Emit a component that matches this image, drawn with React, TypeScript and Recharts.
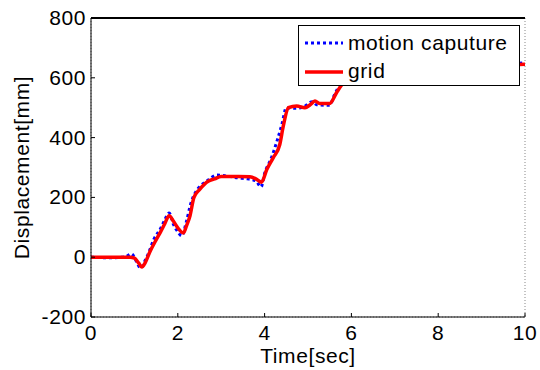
import { LineChart, Line, XAxis, YAxis, CartesianGrid, Legend, ReferenceLine } from "recharts";

// time [s] and displacement [mm]
const gridTime = [0, 0.5, 0.9, 1.0, 1.1, 1.17, 1.25, 1.36, 1.5, 1.6, 1.7, 1.8, 1.9, 2.0, 2.13, 2.2, 2.28, 2.37, 2.5, 2.7, 2.85, 3.0, 3.4, 3.66, 3.8, 3.93, 4.05, 4.2, 4.35, 4.43, 4.55, 4.74, 4.93, 5.05, 5.16, 5.28, 5.5, 5.66, 5.77, 5.9, 6.1, 6.5, 7, 8, 9, 10];
const gridDisp = [0, 0, 0, -3, -20, -33, -18, 19, 58, 84, 112, 139, 120, 98, 81, 105, 138, 199, 226, 254, 262, 270, 270, 269, 262, 251, 293, 333, 377, 438, 500, 506, 500, 510, 522, 514, 514, 551, 575, 598, 615, 625, 630, 635, 640, 645];

const mocapTime = [0, 0.5, 0.8, 0.93, 1.05, 1.14, 1.25, 1.31, 1.45, 1.6, 1.7, 1.8, 1.9, 2.0, 2.09, 2.2, 2.3, 2.4, 2.5, 2.7, 2.9, 3.1, 3.4, 3.6, 3.8, 3.92, 4.0, 4.15, 4.3, 4.4, 4.5, 4.7, 4.9, 5.1, 5.2, 5.5, 5.6, 5.75, 5.9, 6.2, 7, 8, 9, 10];
const mocapDisp = [0, -2, 2, 11, -15, -37, -10, 8, 60, 95, 125, 148, 110, 85, 71, 120, 180, 215, 235, 258, 275, 272, 265, 262, 255, 235, 280, 330, 395, 445, 500, 498, 503, 520, 510, 508, 540, 580, 600, 620, 630, 638, 642, 650];

const xTicks = [0, 2, 4, 6, 8, 10];
const yTicks = [-200, 0, 200, 400, 600, 800];

const gridData = gridTime.map((t, i) => ({ t, v: gridDisp[i] }));
const mocapData = mocapTime.map((t, i) => ({ t, v: mocapDisp[i] }));

const FONT = "'Liberation Sans', Arial, sans-serif";
const FS = 21;
const LS = 0.6;

const BottomTick = (p: any) => (
  <g>
    <line x1={p.x} y1={p.y} x2={p.x} y2={p.y - 4} stroke="#000" />
    <text x={p.x} y={p.y + 23} textAnchor="middle" fontSize={FS} fontFamily={FONT} letterSpacing={LS} fill="#000">
      {p.payload.value}
    </text>
  </g>
);
const LeftTick = (p: any) => (
  <g>
    <line x1={p.x} y1={p.y} x2={p.x + 4} y2={p.y} stroke="#000" />
    <text x={p.x - 5} y={p.y + 7} textAnchor="end" fontSize={FS} fontFamily={FONT} letterSpacing={LS} fill="#000">
      {p.payload.value}
    </text>
  </g>
);
const TopTick = (p: any) => <line x1={p.x} y1={p.y} x2={p.x} y2={p.y + 4} stroke="#000" />;
const RightTick = (p: any) => <line x1={p.x} y1={p.y} x2={p.x - 4} y2={p.y} stroke="#000" />;

const LegendBox = () => (
  <div
    style={{
      width: 222, height: 61, boxSizing: "border-box", border: "1px solid #000",
      background: "#fff", fontFamily: FONT, fontSize: FS, letterSpacing: LS, color: "#000", position: "relative",
    }}
  >
    <svg width={40} height={10} style={{ position: "absolute", left: 6, top: 12 }}>
      <line x1={0} y1={5} x2={38} y2={5} stroke="#0000ff" strokeWidth={3} strokeDasharray="3 3" />
    </svg>
    <span style={{ position: "absolute", left: 49, top: 4, lineHeight: "26px", whiteSpace: "nowrap" }}>motion caputure</span>
    <svg width={40} height={10} style={{ position: "absolute", left: 6, top: 41 }}>
      <line x1={0} y1={5} x2={38} y2={5} stroke="#ff0000" strokeWidth={3.5} />
    </svg>
    <span style={{ position: "absolute", left: 49, top: 32, lineHeight: "26px" }}>grid</span>
  </div>
);

export default function App() {
  return (
    <div style={{ position: "absolute", left: 0, top: 0, width: 540, height: 370, background: "#fff", fontFamily: FONT }}>
      <LineChart width={540} height={370} margin={{ top: 17, right: 15, bottom: 0, left: 0 }}>
        <CartesianGrid stroke="#888" strokeDasharray="1 2" />
        <XAxis
          xAxisId="b" dataKey="t" type="number" domain={[0, 10]} ticks={xTicks}
          height={53} tickSize={0} tickMargin={0} tick={BottomTick}
          axisLine={{ stroke: "#000" }}
          label={{ value: "Time[sec]", position: "insideBottom", offset: 7, fontSize: FS, fill: "#000", fontFamily: FONT, letterSpacing: LS }}
        />
        <XAxis
          xAxisId="t" orientation="top" dataKey="t" type="number" domain={[0, 10]} ticks={xTicks}
          height={1} tickSize={0} tickMargin={0} tick={TopTick} axisLine={false}
        />
        <YAxis
          yAxisId="l" type="number" domain={[-200, 800]} ticks={yTicks} width={91}
          tickSize={0} tickMargin={0} tick={LeftTick} axisLine={{ stroke: "#000" }}
          label={{ value: "Displacement[mm]", angle: -90, position: "insideLeft", offset: 22, fontSize: FS, fill: "#000", fontFamily: FONT, letterSpacing: LS, style: { textAnchor: "middle" } }}
        />
        <YAxis
          yAxisId="r" orientation="right" type="number" domain={[-200, 800]} ticks={yTicks} width={0}
          tickSize={0} tickMargin={0} tick={RightTick} axisLine={{ stroke: "#000" }}
        />
        <ReferenceLine xAxisId="b" yAxisId="l" y={800} stroke="#000" strokeWidth={2} ifOverflow="visible" />
        <Legend
          layout="vertical" align="center" verticalAlign="middle"
          content={LegendBox}
          wrapperStyle={{ left: 298, top: 25, width: 222, height: 61 }}
        />
        <Line
          xAxisId="b" yAxisId="l" data={mocapData} dataKey="v" name="motion caputure" type="monotone"
          stroke="#0000ff" strokeWidth={3} strokeDasharray="3 3" dot={false} isAnimationActive={false}
        />
        <Line
          xAxisId="b" yAxisId="l" data={gridData} dataKey="v" name="grid" type="monotone"
          stroke="#ff0000" strokeWidth={3.5} dot={false} isAnimationActive={false}
        />
      </LineChart>
    </div>
  );
}
